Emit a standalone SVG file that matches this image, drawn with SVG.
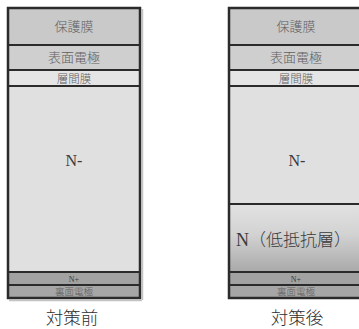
<svg xmlns="http://www.w3.org/2000/svg" width="359" height="329" viewBox="0 0 359 329">
<defs>
<linearGradient id="nlow" x1="0" y1="0" x2="0" y2="1">
<stop offset="0" stop-color="#e2e2e2"/>
<stop offset="0.45" stop-color="#d2d2d2"/>
<stop offset="1" stop-color="#a9a9a9"/>
</linearGradient>
<style>
.sep{stroke:#2b2b2b;stroke-width:2}
.frame{fill:none;stroke:#2b2b2b;stroke-width:2.5}
.shadow{stroke:#c4c4c4;stroke-width:1.5}
.jp{font-family:"Noto Sans CJK JP","Noto Sans CJK SC",sans-serif;fill:#606060;text-anchor:middle;font-weight:300}
.ser{font-family:"Liberation Serif","Noto Sans CJK JP",serif;fill:#3a3a3a;text-anchor:middle}
.cap{font-family:"Noto Sans CJK JP","Noto Sans CJK SC",sans-serif;fill:#2e2e2e;text-anchor:middle;font-size:17.5px;font-weight:300}
</style>
</defs>
<rect width="359" height="329" fill="#ffffff"/>

<g id="before">
<line class="shadow" x1="142.5" y1="9" x2="142.5" y2="300"/>
<line class="shadow" x1="9" y1="300.5" x2="142" y2="300.5"/>
<rect x="8" y="8" width="132" height="37" fill="#c9c9c9"/>
<rect x="8" y="45" width="132" height="25" fill="#cfcfcf"/>
<rect x="8" y="70" width="132" height="16" fill="#e5e5e5"/>
<rect x="8" y="86" width="132" height="186" fill="#e0e0e0"/>
<rect x="8" y="272" width="132" height="13" fill="#a2a2a2"/>
<rect x="8" y="285" width="132" height="13" fill="#a6a6a6"/>
<line class="sep" x1="8" y1="45" x2="140" y2="45"/>
<line class="sep" x1="8" y1="70" x2="140" y2="70"/>
<line class="sep" x1="8" y1="86" x2="140" y2="86"/>
<line class="sep" x1="8" y1="272" x2="140" y2="272"/>
<line class="sep" x1="8" y1="285" x2="140" y2="285"/>
<rect class="frame" x="8" y="8" width="132" height="290"/>
<text class="jp" x="74" y="31" font-size="13">保護膜</text>
<text class="jp" x="74" y="62" font-size="13">表面電極</text>
<text class="jp" x="74" y="83" font-size="11.5">層間膜</text>
<text class="ser" x="74" y="166" font-size="16">N-</text>
<text class="ser" x="74" y="282" font-size="8">N+</text>
<text class="jp" x="74" y="295" font-size="9.5">裏面電極</text>
<text class="cap" x="72" y="324">対策前</text>
</g>

<g id="after">
<rect x="229" y="8" width="132" height="37" fill="#c9c9c9"/>
<rect x="229" y="45" width="132" height="25" fill="#cfcfcf"/>
<rect x="229" y="70" width="132" height="16" fill="#e5e5e5"/>
<rect x="229" y="86" width="132" height="118" fill="#e0e0e0"/>
<rect x="229" y="204" width="132" height="68" fill="url(#nlow)"/>
<rect x="229" y="272" width="132" height="13" fill="#a2a2a2"/>
<rect x="229" y="285" width="132" height="13" fill="#a6a6a6"/>
<line class="sep" x1="229" y1="45" x2="361" y2="45"/>
<line class="sep" x1="229" y1="70" x2="361" y2="70"/>
<line class="sep" x1="229" y1="86" x2="361" y2="86"/>
<line class="sep" x1="229" y1="204" x2="361" y2="204"/>
<line class="sep" x1="229" y1="272" x2="361" y2="272"/>
<line class="sep" x1="229" y1="285" x2="361" y2="285"/>
<rect class="frame" x="229" y="8" width="132" height="290"/>
<text class="jp" x="296" y="31" font-size="13">保護膜</text>
<text class="jp" x="296" y="62" font-size="13">表面電極</text>
<text class="jp" x="296" y="83" font-size="11.5">層間膜</text>
<text class="ser" x="297" y="166" font-size="16">N-</text>
<text x="236" y="246" font-size="18" font-family="Liberation Serif,'Noto Sans CJK JP',serif" fill="#3a3a3a">N<tspan font-size="17" font-family="'Noto Sans CJK JP','Noto Sans CJK SC',sans-serif" font-weight="300">（低抵抗層）</tspan></text>
<text class="ser" x="296" y="282" font-size="8">N+</text>
<text class="jp" x="296" y="295" font-size="9.5">裏面電極</text>
<text class="cap" x="297" y="324">対策後</text>
</g>

<g id="connectors"></g>
</svg>
